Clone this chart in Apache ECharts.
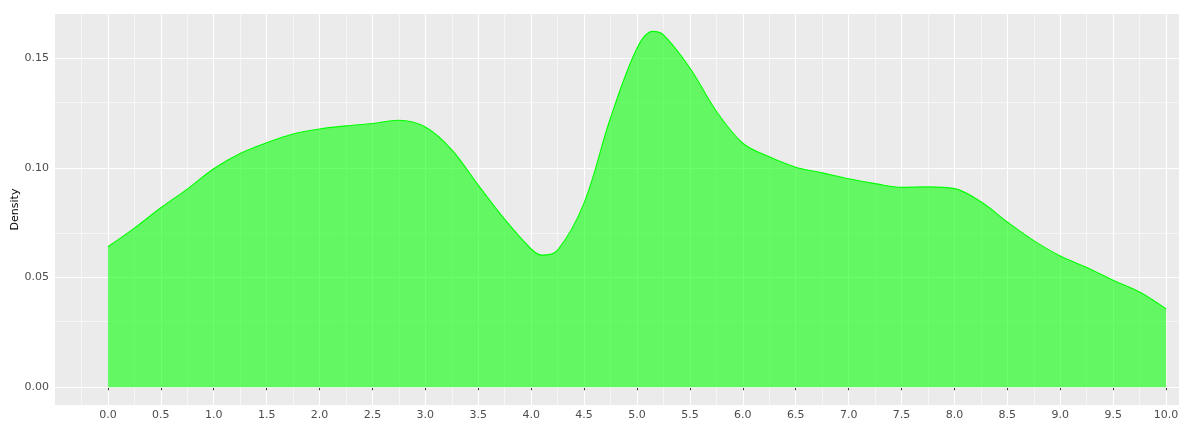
<!DOCTYPE html>
<html>
<head>
<meta charset="utf-8">
<script src="https://cdn.jsdelivr.net/npm/echarts@6/dist/echarts.min.js"></script>
<style>
  html, body { margin: 0; padding: 0; background: #fff; }
  #chart { width: 1179px; height: 424px; }
</style>
</head>
<body>
<div id="chart"></div>
<script>
// density curve
var xs = [0, 0.25, 0.5, 0.75, 1, 1.25, 1.5, 1.75, 2, 2.25, 2.5, 2.75, 3, 3.25, 3.5, 3.75, 4, 4.1, 4.25, 4.5, 4.75, 5, 5.15, 5.25, 5.5, 5.75, 6, 6.25, 6.5, 6.75, 7, 7.25, 7.5, 7.75, 8, 8.25, 8.5, 8.75, 9, 9.25, 9.5, 9.75, 10];
var density = [0.064, 0.0725, 0.0818, 0.0903, 0.0996, 0.1065, 0.1114, 0.1154, 0.1177, 0.1191, 0.1202, 0.1217, 0.1186, 0.1082, 0.0921, 0.0765, 0.063, 0.0602, 0.0625, 0.084, 0.1228, 0.1545, 0.1622, 0.1606, 0.1455, 0.1258, 0.1112, 0.105, 0.1003, 0.0977, 0.095, 0.0928, 0.0911, 0.0913, 0.0905, 0.0845, 0.0753, 0.0668, 0.0598, 0.0546, 0.0488, 0.0434, 0.0357];

var xTicks = [0, 0.5, 1, 1.5, 2, 2.5, 3, 3.5, 4, 4.5, 5, 5.5, 6, 6.5, 7, 7.5, 8, 8.5, 9, 9.5, 10];
var yTicks = [0, 0.05, 0.1, 0.15];
var yMinor = [0.025, 0.075, 0.125];

var points = xs.map(function (x, i) { return [x, density[i]]; });

var gridLines = [];
yTicks.forEach(function (v) {
  gridLines.push({ yAxis: v, lineStyle: { color: '#ffffff', width: 1.1, type: 'solid' } });
});
yMinor.forEach(function (v) {
  gridLines.push({ yAxis: v, lineStyle: { color: '#ffffff', width: 0.55, type: 'solid' } });
});

var labelStyle = { color: '#4d4d4d', fontSize: 11, fontFamily: 'DejaVu Sans' };

var myChart = echarts.init(document.getElementById('chart'));
var option = {
  animation: false,
  grid: {
    left: 55, top: 14, bottom: 19, width: 1164,
    outerBoundsMode: 'none',
    containLabel: false,
    show: true, backgroundColor: '#ebebeb', borderWidth: 0
  },
  xAxis: {
    type: 'value',
    min: -0.5, max: 10.5, interval: 0.5,
    axisLine: { show: false },
    axisTick: { show: true, length: 3, customValues: xTicks, lineStyle: { color: '#333333', width: 1 } },
    axisLabel: Object.assign({ margin: 5, customValues: xTicks, formatter: function (v) { return v.toFixed(1); } }, labelStyle),
    splitLine: { show: true, lineStyle: { color: '#ffffff', width: 1.1 } },
    minorTick: { show: false, splitNumber: 2 },
    minorSplitLine: { show: true, lineStyle: { color: '#ffffff', width: 0.55 } }
  },
  yAxis: {
    type: 'value',
    min: -0.0081, max: 0.1701,
    name: 'Density',
    nameLocation: 'middle',
    nameGap: 34,
    nameMoveOverlap: false,
    nameRotate: 90,
    nameTextStyle: { color: '#000000', fontSize: 11, fontFamily: 'DejaVu Sans' },
    axisLine: { show: false },
    axisTick: { show: true, length: 3, customValues: yTicks, lineStyle: { color: '#333333', width: 1 } },
    axisLabel: Object.assign({ margin: 6, customValues: yTicks, formatter: function (v) { return v.toFixed(2); } }, labelStyle),
    splitLine: { show: false }
  },
  series: [
    {
      // background series that carries the horizontal grid lines
      type: 'line',
      z: 1,
      silent: true,
      data: points,
      showSymbol: false,
      lineStyle: { opacity: 0 },
      markLine: {
        z: 1,
        silent: true,
        symbol: 'none',
        label: { show: false },
        animation: false,
        data: gridLines
      }
    },
    {
      type: 'line',
      z: 3,
      data: points,
      smooth: 0.35,
      showSymbol: false,
      lineStyle: { color: '#00ff00', width: 1.1 },
      areaStyle: { color: '#00ff00', opacity: 0.58, origin: 0 }
    }
  ]
};
myChart.setOption(option);
</script>
</body>
</html>
